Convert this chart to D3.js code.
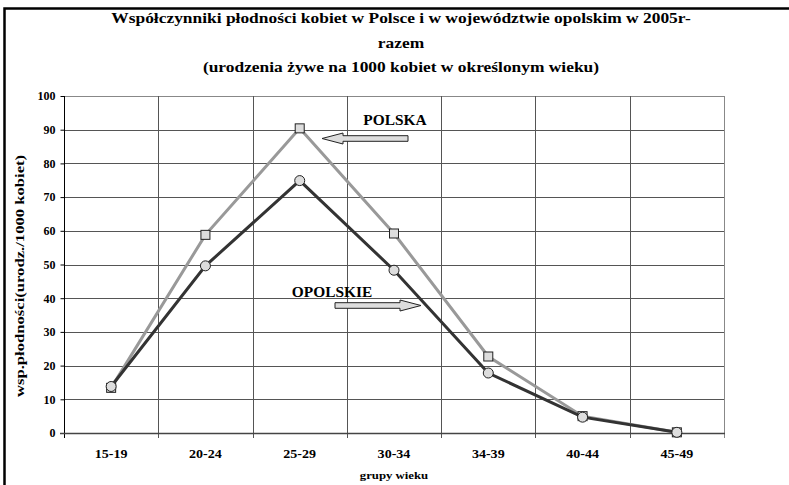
<!DOCTYPE html>
<meta charset="utf-8">
<html>
<head>
<script src="https://d3js.org/d3.v7.min.js"></script>
<style>
  body { margin: 0; background: #fff; }
  text { font-family: "Liberation Serif", "Times New Roman", serif; font-weight: bold; fill: #000; }
</style>
</head>
<body>
<script>
// age groups and values (births per 1000 women)
var groups = ["15-19", "20-24", "25-29", "30-34", "34-39", "40-44", "45-49"];
var polska = [13.4, 58.8, 90.4, 59.2, 22.7, 5.0, 0.2];
var opolskie = [13.8, 49.6, 74.9, 48.3, 17.8, 4.7, 0.2];
var yTicks = [0, 10, 20, 30, 40, 50, 60, 70, 80, 90, 100];

var W = 789, H = 485;
var margin = {top: 96, right: 65, bottom: 52, left: 64};
var width = W - margin.left - margin.right,
    height = H - margin.top - margin.bottom;

var svg = d3.select("body").append("svg")
  .attr("width", W)
  .attr("height", H);

// the reference font is wider than Liberation Serif, so stretch text a bit
function stretch(sel, k) {
  sel.each(function() {
    var l = this.getComputedTextLength();
    d3.select(this).attr("textLength", l * k).attr("lengthAdjust", "spacingAndGlyphs");
  });
}

// outer frame
svg.append("rect")
  .attr("x", 4.5).attr("y", 8.5)
  .attr("width", 800).attr("height", 500)
  .attr("fill", "none").attr("stroke", "#000").attr("stroke-width", 2.5);

// titles
var titles = [
  "Współczynniki płodności kobiet w Polsce i w województwie opolskim w 2005r-",
  "razem",
  "(urodzenia żywe na 1000 kobiet w określonym wieku)"
];
svg.selectAll(".title").data(titles).enter().append("text")
  .attr("class", "title")
  .attr("x", 401)
  .attr("y", function(d, i) { return 23 + i * 24.5; })
  .attr("text-anchor", "middle")
  .attr("font-size", 15)
  .text(function(d) { return d; })
  .call(stretch, 1.16);

var g = svg.append("g")
  .attr("transform", "translate(" + margin.left + "," + margin.top + ")");

var x = d3.scaleBand().domain(groups).range([0, width]);
var y = d3.scaleLinear().domain([0, 100]).range([height, 0]);

// horizontal gridlines
g.append("g").selectAll("line").data(yTicks).enter().append("line")
  .attr("x1", 0).attr("x2", width)
  .attr("y1", function(d) { return Math.round(y(d)) + 0.5; })
  .attr("y2", function(d) { return Math.round(y(d)) + 0.5; })
  .attr("stroke", function(d) { return d == 100 ? "#888" : "#555"; });

// vertical gridlines between groups
var bounds = groups.map(function(d) { return x(d); }).concat([width]);
g.append("g").selectAll("line").data(bounds).enter().append("line")
  .attr("x1", function(d) { return Math.round(d) + 0.5; })
  .attr("x2", function(d) { return Math.round(d) + 0.5; })
  .attr("y1", 0)
  .attr("y2", height + 5)
  .attr("stroke", function(d, i) { return i == bounds.length - 1 ? "#888" : (i == 0 ? "#000" : "#555"); });

// y axis
var yAxis = g.append("g")
  .attr("transform", "translate(0.5,0)")
  .call(d3.axisLeft(y).tickValues(yTicks).tickSize(4).tickPadding(5));
yAxis.select(".domain").remove();
yAxis.selectAll("line").attr("stroke", "#000");
yAxis.selectAll("text")
  .attr("font-size", 12)
  .attr("font-family", "Liberation Serif")
  .attr("font-weight", "bold");

// x axis labels
g.append("g").selectAll("text").data(groups).enter().append("text")
  .attr("x", function(d) { return x(d) + x.bandwidth() / 2; })
  .attr("y", height + 25)
  .attr("text-anchor", "middle")
  .attr("font-size", 13)
  .text(function(d) { return d; })
  .call(stretch, 1.08);

// x axis line
g.append("line")
  .attr("x1", -4).attr("x2", width + 1)
  .attr("y1", height + 0.5).attr("y2", height + 0.5)
  .attr("stroke", "#444").attr("stroke-width", 1.5);

// axis titles
svg.append("text")
  .attr("x", margin.left + width / 2)
  .attr("y", 479)
  .attr("text-anchor", "middle")
  .attr("font-size", 11)
  .text("grupy wieku")
  .call(stretch, 1.16);

svg.append("text")
  .attr("transform", "translate(24,276) rotate(-90)")
  .attr("text-anchor", "middle")
  .attr("font-size", 12.5)
  .text("wsp.płodności(urodz./1000 kobiet)")
  .call(stretch, 1.33);

var line = d3.line()
  .x(function(d, i) { return x(groups[i]) + x.bandwidth() / 2; })
  .y(function(d) { return y(d); });

// POLSKA
g.append("path").datum(polska)
  .attr("d", line)
  .attr("fill", "none").attr("stroke", "#999").attr("stroke-width", 3);
// OPOLSKIE
g.append("path").datum(opolskie)
  .attr("d", line)
  .attr("fill", "none").attr("stroke", "#333").attr("stroke-width", 3);

g.append("g").selectAll("rect").data(polska).enter().append("rect")
  .attr("x", function(d, i) { return x(groups[i]) + x.bandwidth() / 2 - 4.5; })
  .attr("y", function(d) { return y(d) - 4.5; })
  .attr("width", 9).attr("height", 9)
  .attr("fill", "#ddd").attr("stroke", "#222").attr("stroke-width", 1);

g.append("g").selectAll("circle").data(opolskie).enter().append("circle")
  .attr("cx", function(d, i) { return x(groups[i]) + x.bandwidth() / 2; })
  .attr("cy", function(d) { return y(d); })
  .attr("r", 5)
  .attr("fill", "#ddd").attr("stroke", "#222").attr("stroke-width", 1);

// annotations with block arrows
function arrow(tipX, tipY, tailX, dir) {
  // dir: -1 points left, 1 points right
  var headLen = 21, headH = 5.5, bodyH = 2.8;
  var neck = tipX - dir * headLen;
  var pts = [
    [tipX, tipY],
    [neck, tipY - headH],
    [neck, tipY - bodyH],
    [tailX, tipY - bodyH],
    [tailX, tipY + bodyH],
    [neck, tipY + bodyH],
    [neck, tipY + headH]
  ];
  svg.append("path")
    .attr("d", "M" + pts.join("L") + "Z")
    .attr("fill", "#ddd").attr("stroke", "#222").attr("stroke-width", 1);
}

svg.append("text").attr("x", 395).attr("y", 125)
  .attr("text-anchor", "middle").attr("font-size", 14).text("POLSKA")
  .call(stretch, 1.1);
arrow(322, 138.5, 408, -1);

svg.append("text").attr("x", 332).attr("y", 297)
  .attr("text-anchor", "middle").attr("font-size", 14).text("OPOLSKIE")
  .call(stretch, 1.1);
arrow(421, 305.5, 335, 1);
</script>
</body>
</html>
